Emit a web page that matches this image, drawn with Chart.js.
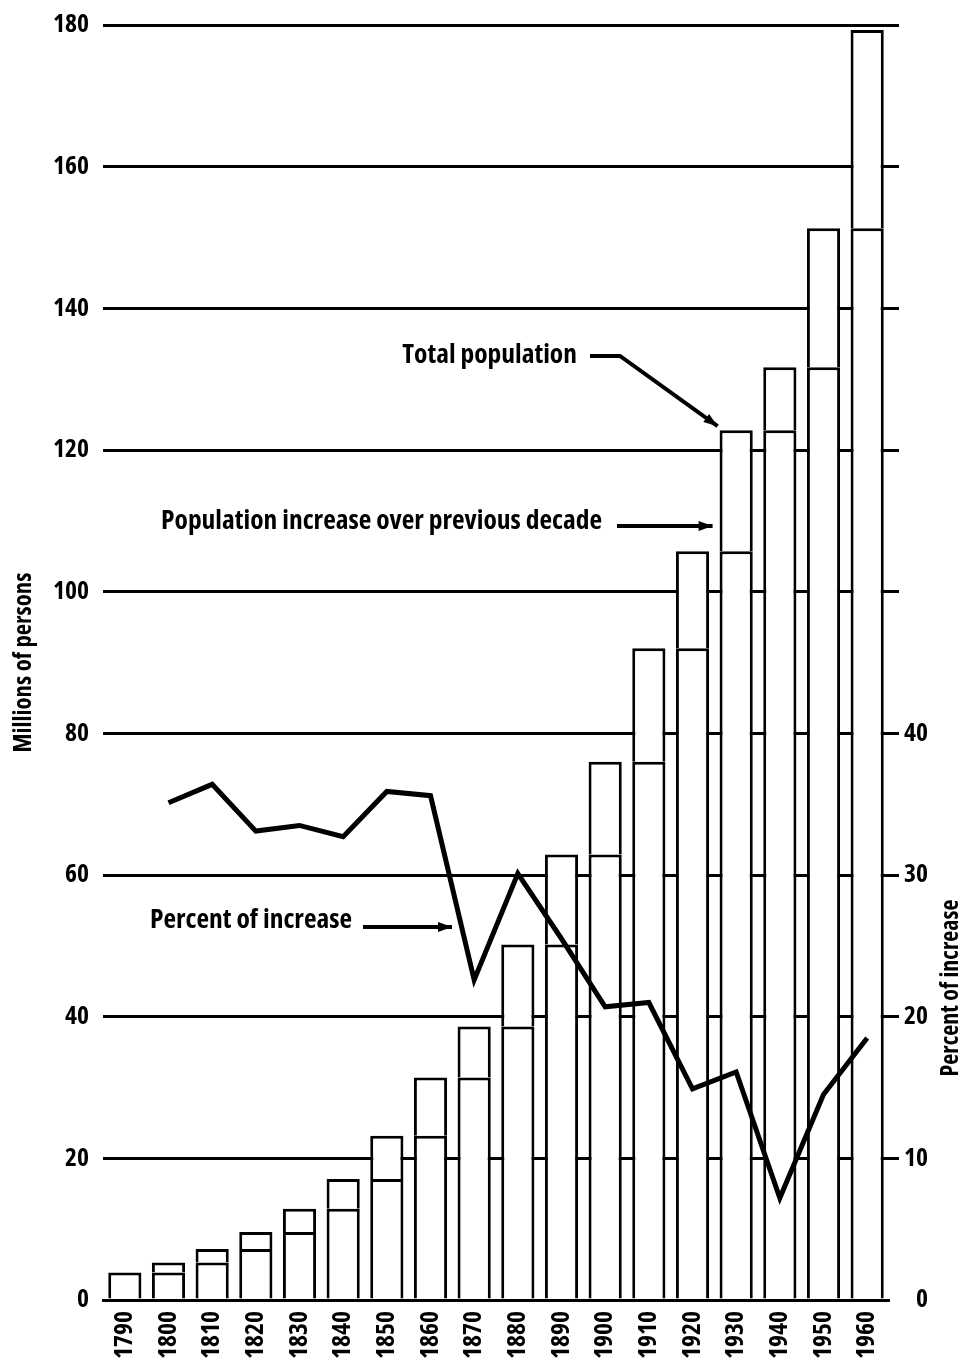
<!DOCTYPE html>
<html>
<head>
<meta charset="utf-8">
<title>Population of the United States, 1790-1960</title>
<script src="https://cdn.jsdelivr.net/npm/chart.js@4.4.1/dist/chart.umd.min.js"></script>
<style>
  html, body { margin: 0; padding: 0; background: #fff; }
  canvas { display: block; }
</style>
</head>
<body>
<canvas id="popChart" width="975" height="1370"></canvas>
<script>
// census years on the x axis
const years = ['1790', '1800', '1810', '1820', '1830', '1840', '1850', '1860', '1870',
  '1880', '1890', '1900', '1910', '1920', '1930', '1940', '1950', '1960'];

// total population, millions of persons
const totalPop = [3.9, 5.3, 7.2, 9.6, 12.9, 17.1, 23.2, 31.4, 38.6,
  50.2, 62.9, 76.0, 92.0, 105.7, 122.8, 131.7, 151.3, 179.3];

// percent of increase over previous decade
const pctIncrease = [null, 35.1, 36.4, 33.1, 33.5, 32.7, 35.9, 35.6, 22.6,
  30.1, 25.5, 20.7, 21.0, 14.9, 16.1, 7.2, 14.5, 18.5];

// right axis only labels the lower half
const rightTickLabels = [0, 10, 20, 30, 40];

// each bar is split at the previous census total
const prevPop = totalPop.map((v, i) => i === 0 ? null : totalPop[i - 1]);
const increase = totalPop.map((v, i) => i === 0 ? v : +(v - totalPop[i - 1]).toFixed(1));

// condensed bold face (Open Sans with font-stretch)
const FAM = "'Open Sans', 'Open Sans Condensed', sans-serif";
const WT = 'bold condensed';

const probe = document.createElement('canvas').getContext('2d');
function fitSize(txt, target, maxSize) {
  probe.font = `${WT} 100px ${FAM}`;
  const w1 = probe.measureText(txt).width / 100;
  return Math.min(maxSize, target / w1);
}
const tickSize = fitSize('180', 36, 28);
const noteSize = fitSize('Percent of increase', 202, 28);
const leftTitleSize = fitSize('Millions of persons', 180, 25);
const rightTitleSize = fitSize('Percent of increase', 177, 25);
const tickFont = { family: FAM, size: tickSize, weight: WT };

function drawArrow(ctx, pts) {
  ctx.beginPath();
  ctx.moveTo(pts[0][0], pts[0][1]);
  for (let i = 1; i < pts.length; i++) ctx.lineTo(pts[i][0], pts[i][1]);
  ctx.stroke();
  const [x1, y1] = pts[pts.length - 2];
  const [x2, y2] = pts[pts.length - 1];
  const a = Math.atan2(y2 - y1, x2 - x1);
  const len = 14, half = 5;
  ctx.beginPath();
  ctx.moveTo(x2, y2);
  ctx.lineTo(x2 - len * Math.cos(a) + half * Math.sin(a), y2 - len * Math.sin(a) - half * Math.cos(a));
  ctx.lineTo(x2 - len * Math.cos(a) - half * Math.sin(a), y2 - len * Math.sin(a) + half * Math.cos(a));
  ctx.closePath();
  ctx.fill();
}

// callout labels + arrows, right title
const notesPlugin = {
  id: 'notes',
  afterDatasetsDraw(chart) {
    const ctx = chart.ctx;
    const bar1930 = chart.getDatasetMeta(2).data[years.indexOf('1930')];
    const barLeft = bar1930.x - bar1930.width / 2;
    ctx.save();
    ctx.fillStyle = '#000';
    ctx.strokeStyle = '#000';
    ctx.lineWidth = 4;
    ctx.lineJoin = 'miter';
    ctx.font = `${WT} ${noteSize}px ${FAM}`;
    ctx.textAlign = 'right';
    ctx.textBaseline = 'middle';

    ctx.fillText('Total population', 577, 355);
    drawArrow(ctx, [[590, 356], [620, 356], [barLeft - 2, bar1930.y - 4]]);

    ctx.fillText('Population increase over previous decade', 602, 521);
    drawArrow(ctx, [[617, 526], [barLeft - 7, 526]]);

    ctx.fillText('Percent of increase', 352, 920);
    drawArrow(ctx, [[363, 927], [452, 927]]);

    // right axis title reads bottom-to-top
    ctx.font = `${WT} ${rightTitleSize}px ${FAM}`;
    ctx.textAlign = 'center';
    ctx.translate(951, 988);
    ctx.rotate(-Math.PI / 2);
    ctx.fillText('Percent of increase', 0, 0);
    ctx.restore();
  }
};

const barStyle = {
  backgroundColor: '#fff',
  borderColor: '#000',
  borderWidth: 3,
  borderSkipped: 'start',
  barPercentage: 0.76,
  categoryPercentage: 1,
  order: 1
};

new Chart(document.getElementById('popChart'), {
  type: 'bar',
  data: {
    labels: years,
    datasets: [
      {
        type: 'line',
        label: 'Percent of increase',
        data: pctIncrease,
        yAxisID: 'y1',
        borderColor: '#000',
        borderWidth: 5,
        borderJoinStyle: 'miter',
        pointRadius: 0,
        tension: 0,
        order: 0
      },
      Object.assign({ label: 'Previous decade', data: prevPop }, barStyle),
      Object.assign({ label: 'Increase', data: increase }, barStyle)
    ]
  },
  options: {
    responsive: false,
    animation: false,
    layout: { padding: { top: 25, left: 0, right: 47, bottom: 0 } },
    plugins: {
      legend: { display: false },
      tooltip: { enabled: false }
    },
    scales: {
      x: {
        stacked: true,
        grid: { display: false, drawTicks: false },
        border: { display: true, color: '#000', width: 3 },
        ticks: { autoSkip: false, minRotation: 90, maxRotation: 90, padding: 11, color: '#000', font: tickFont },
        afterFit: s => { s.height = 70; s.paddingLeft = 0; s.paddingRight = 0; }
      },
      y: {
        stacked: true,
        min: 0,
        max: 180,
        ticks: { stepSize: 20, padding: 14, color: '#000', font: tickFont },
        grid: { color: '#000', lineWidth: 3, drawTicks: false },
        border: { display: false },
        title: {
          display: true,
          text: 'Millions of persons',
          color: '#000',
          font: { family: FAM, size: leftTitleSize, weight: WT },
          padding: { top: 9, bottom: 0 }
        },
        afterFit: s => { s.width = 103; s.paddingTop = 0; s.paddingBottom = 0; }
      },
      y1: {
        position: 'right',
        min: 0,
        max: 90,
        ticks: {
          stepSize: 10,
          padding: 5,
          crossAlign: 'far',
          color: '#000',
          font: tickFont,
          callback: v => rightTickLabels.includes(v) ? String(v) : ''
        },
        grid: {
          drawOnChartArea: false,
          drawTicks: true,
          tickLength: 10,
          lineWidth: 3,
          color: c => (c.tick && c.tick.value === 0) ? 'rgba(0,0,0,0)' : '#000'
        },
        border: { display: false },
        afterFit: s => { s.width = 39; s.paddingTop = 0; s.paddingBottom = 0; }
      }
    }
  },
  plugins: [notesPlugin]
});
</script>
</body>
</html>
